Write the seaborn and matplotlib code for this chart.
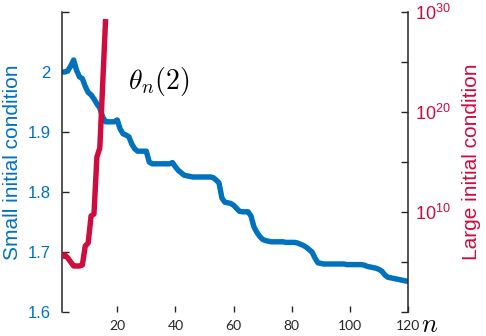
import numpy as np
import pandas as pd
import matplotlib
matplotlib.use("Agg")
import matplotlib.pyplot as plt
import seaborn as sns
from matplotlib.ticker import FixedLocator, FixedFormatter, NullLocator

# ---- data ----
n_small = list(range(1, 121))
small_vals = [
    2.000, 2.000, 2.002, 2.010, 2.020, 2.003, 1.992, 1.989, 1.976, 1.966,
    1.962, 1.955, 1.947, 1.940, 1.925, 1.917, 1.917, 1.917, 1.917, 1.920,
    1.905, 1.897, 1.895, 1.892, 1.880, 1.872, 1.868, 1.868, 1.868, 1.868,
    1.850, 1.847, 1.847, 1.847, 1.847, 1.847, 1.847, 1.847, 1.849, 1.842,
    1.836, 1.832, 1.828, 1.827, 1.826, 1.825, 1.825, 1.825, 1.825, 1.825,
    1.825, 1.825, 1.824, 1.820, 1.815, 1.790, 1.783, 1.782, 1.781, 1.778,
    1.773, 1.768, 1.767, 1.767, 1.767, 1.760, 1.742, 1.733, 1.726, 1.721,
    1.719, 1.718, 1.717, 1.717, 1.717, 1.717, 1.717, 1.716, 1.716, 1.716,
    1.716, 1.715, 1.713, 1.711, 1.708, 1.704, 1.700, 1.690, 1.682, 1.681,
    1.680, 1.680, 1.680, 1.680, 1.680, 1.680, 1.680, 1.680, 1.679, 1.679,
    1.679, 1.679, 1.679, 1.679, 1.678, 1.676, 1.675, 1.674, 1.673, 1.671,
    1.668, 1.662, 1.658, 1.657, 1.656, 1.655, 1.654, 1.653, 1.652, 1.651,
]
n_large = [1, 2, 3, 4, 5, 6, 7, 8, 9, 10, 11, 12, 13, 14, 15, 16]
large_log10 = [5.5, 5.7, 5.4, 5.0, 4.6, 4.6, 4.6, 4.7, 6.6, 6.9,
               9.6, 9.8, 15.5, 16.4, 22.8, 29.3]
large_vals = [10.0 ** v for v in large_log10]

left_ticks = [1.6, 1.7, 1.8, 1.9, 2.0, 2.1]
left_labels = ["1.6", "1.7", "1.8", "1.9", "2", ""]
x_ticks = [20, 40, 60, 80, 100, 120]
right_ticks = [1e0, 1e5, 1e10, 1e15, 1e20, 1e25, 1e30]
right_labels = ["", "", r"10$^{10}$", "", r"10$^{20}$", "", r"10$^{30}$"]

BLUE = "#0072BD"
RED = "#CE0C3E"
AXC = "#262626"

sns.set_theme(style="white")
plt.rcParams["font.family"] = ["Liberation Sans", "DejaVu Sans"]
plt.rcParams["mathtext.fontset"] = "custom"
plt.rcParams["mathtext.rm"] = "Liberation Sans"
plt.rcParams["mathtext.it"] = "Liberation Sans:italic"

fig = plt.figure(figsize=(4.86, 3.36), dpi=100)
ax = fig.add_axes([62 / 486, 1 - 312 / 336, (408 - 62) / 486, 300 / 336])

df_s = pd.DataFrame({"n": n_small, "v": small_vals})
sns.lineplot(data=df_s, x="n", y="v", ax=ax, color=BLUE, linewidth=3.9,
             solid_capstyle="butt", solid_joinstyle="round")
ax.set_xlim(1, 120)
ax.set_ylim(1.6, 2.1)

ax2 = ax.twinx()
df_l = pd.DataFrame({"n": n_large, "v": large_vals})
sns.lineplot(data=df_l, x="n", y="v", ax=ax2, color=RED, linewidth=3.9,
             solid_capstyle="butt", solid_joinstyle="round")
ax2.set_yscale("log")
ax2.set_ylim(1e0, 1e30)
ax2.set_xlim(1, 120)

# left axis styling
ax.yaxis.set_major_locator(FixedLocator(left_ticks))
ax.yaxis.set_major_formatter(FixedFormatter(left_labels))
ax.xaxis.set_major_locator(FixedLocator(x_ticks))
for sp in ["top", "right", "bottom"]:
    ax.spines[sp].set_visible(False)
ax.spines["left"].set_color(AXC)
ax.spines["left"].set_linewidth(1.1)
ax.tick_params(axis="y", direction="in", length=5, width=1.0, color=AXC,
               labelcolor=BLUE, labelsize=12, pad=8, left=True)
ax.tick_params(axis="x", direction="in", length=4, width=1.0, color=AXC,
               labelcolor=AXC, labelsize=10, pad=6, bottom=True)
for lbl in ax.get_xticklabels():
    lbl.set_fontfamily("Lato")
ax.set_xlabel("")
ax.set_ylabel("Small initial condition", color=BLUE, fontsize=15, labelpad=4)

# right axis styling
ax2.yaxis.set_major_locator(FixedLocator(right_ticks))
ax2.yaxis.set_major_formatter(FixedFormatter(right_labels))
ax2.yaxis.set_minor_locator(NullLocator())
for sp in ["top", "left", "bottom"]:
    ax2.spines[sp].set_visible(False)
ax2.spines["right"].set_color(AXC)
ax2.spines["right"].set_linewidth(1.1)
ax2.tick_params(axis="y", which="major", direction="in", length=5, width=1.0,
                color=AXC, labelcolor=RED, labelsize=13, pad=5, right=True)
ax2.set_xlabel("")
ax2.set_ylabel("Large initial condition", color=RED, fontsize=15, labelpad=8)

# annotations
ax.text(23.6, 1.985, r"$\theta_n(2)$", fontsize=20, ha="left", va="center",
        math_fontfamily="cm", color="black")
fig.text(421 / 486, 1 - 325 / 336, r"$n$", fontsize=19, ha="left",
         va="center", math_fontfamily="cm", color="black")

fig.savefig("out.png", dpi=100)
